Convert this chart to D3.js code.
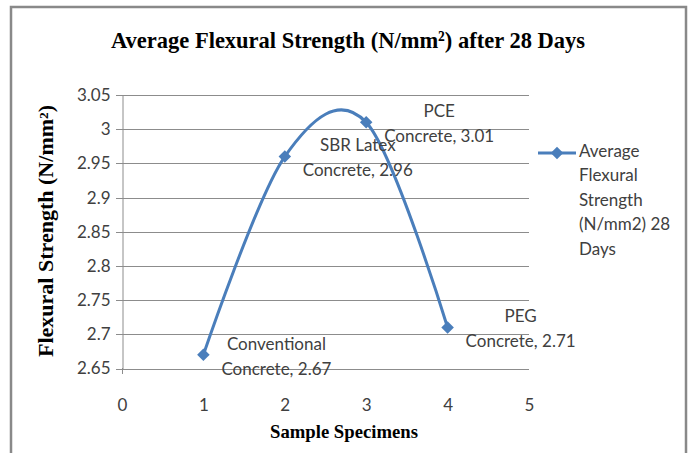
<!DOCTYPE html>
<html><head><meta charset="utf-8">
<script src="https://cdn.jsdelivr.net/npm/d3@7"></script>
<style>body{margin:0;background:#fff}svg{display:block}</style>
</head><body>
<svg id="c" width="691" height="453"></svg>
<script>
const xValues = [1, 2, 3, 4];
const strengths = [2.67, 2.96, 3.01, 2.71];
const labelLine1 = ["Conventional", "SBR Latex", "PCE", "PEG"];
const labelLine2 = ["Concrete", "Concrete", "Concrete", "Concrete"];
const xTicks = [0, 1, 2, 3, 4, 5];
const yTicks = [2.65, 2.7, 2.75, 2.8, 2.85, 2.9, 2.95, 3, 3.05];
const legendLines = ["Average", "Flexural", "Strength", "(N/mm2) 28", "Days"];
const titleText = "Average Flexural Strength (N/mm²) after 28 Days";
const xTitle = "Sample Specimens";
const yTitle = "Flexural  Strength  (N/mm²)";

const svg = d3.select("#c");
const blue = "#4A7EBB";
const tickFont = "Lato, 'Open Sans', sans-serif";
const fs = 17;

svg.append("rect").attr("x", 11).attr("y", 7).attr("width", 675).attr("height", 460)
  .attr("fill", "#fff").attr("stroke", "#898989").attr("stroke-width", 2.5);

const x = d3.scaleLinear().domain([0, 5]).range([122, 529]);
const y = d3.scaleLinear().domain([2.65, 3.05]).range([368.5, 95]);

// gridlines
svg.append("g").selectAll("line").data(yTicks).join("line")
  .attr("x1", 116).attr("x2", 529)
  .attr("y1", d => Math.round(y(d)) + 0.5).attr("y2", d => Math.round(y(d)) + 0.5)
  .attr("stroke", "#8c8c8c").attr("stroke-width", 1);

// y axis
const yAxis = svg.append("g").attr("transform", "translate(122.5,0)")
  .call(d3.axisLeft(y).tickValues(yTicks).tickSize(0).tickPadding(12).tickFormat(d => d3.format("")(+d.toFixed(2))));
yAxis.select(".domain").attr("stroke", "#8c8c8c");
yAxis.selectAll("text").attr("font-family", tickFont).attr("font-size", fs).attr("fill", "#404040");

// x axis (labels only)
const xAxis = svg.append("g").attr("transform", "translate(0,368.5)")
  .call(d3.axisBottom(x).tickValues(xTicks).tickSize(0).tickPadding(30).tickFormat(d3.format("d")));
xAxis.select(".domain").remove();
xAxis.selectAll("text").attr("font-family", tickFont).attr("font-size", fs).attr("fill", "#404040");
svg.append("line").attr("x1", 122.5).attr("x2", 122.5).attr("y1", 368).attr("y2", 374).attr("stroke", "#8c8c8c");

// line
const pts = xValues.map((v, i) => [x(v), y(strengths[i])]);
svg.append("path").attr("d", d3.line().curve(d3.curveCardinal.tension(0))(pts))
  .attr("fill", "none").attr("stroke", blue).attr("stroke-width", 3);

const diamond = d3.symbol().type(d3.symbolDiamond2).size(100);
svg.append("g").selectAll("path").data(pts).join("path")
  .attr("transform", d => `translate(${d[0]},${d[1]})`)
  .attr("d", diamond).attr("fill", blue);

// data labels
const lab = svg.append("g").attr("font-family", tickFont).attr("font-size", fs).attr("fill", "#404040");
pts.forEach((p, i) => {
  const l2 = `${labelLine2[i]}, ${d3.format(".2f")(strengths[i])}`;
  const g = lab.append("g");
  const t1 = g.append("text").attr("text-anchor", "middle").attr("y", p[1] - 12.5 + 1.5).attr("dy", "0.35em").text(labelLine1[i]);
  const t2 = g.append("text").attr("text-anchor", "middle").attr("y", p[1] + 12.5 + 1.5).attr("dy", "0.35em").text(l2);
  const w = Math.max(t1.node().getComputedTextLength(), t2.node().getComputedTextLength());
  g.selectAll("text").attr("x", p[0] + 18 + w / 2);
});

// legend
svg.append("line").attr("x1", 538).attr("x2", 576).attr("y1", 153).attr("y2", 153)
  .attr("stroke", blue).attr("stroke-width", 3);
svg.append("path").attr("transform", "translate(557,153)").attr("d", diamond).attr("fill", blue);
svg.append("g").selectAll("text").data(legendLines).join("text")
  .attr("x", 579).attr("y", (d, i) => 151 + i * 24.5).attr("dy", "0.35em")
  .attr("font-family", tickFont).attr("font-size", fs).attr("fill", "#404040").text(d => d);

// titles
svg.append("text").attr("x", 348).attr("y", 40).attr("dy", "0.35em").attr("text-anchor", "middle")
  .attr("font-family", "'Liberation Serif', serif").attr("font-weight", "bold").attr("font-size", 24)
  .attr("textLength", 474).attr("lengthAdjust", "spacingAndGlyphs").text(titleText);
svg.append("text").attr("x", 344).attr("y", 431).attr("dy", "0.35em").attr("text-anchor", "middle")
  .attr("font-family", "'Liberation Serif', serif").attr("font-weight", "bold").attr("font-size", 19)
  .attr("textLength", 148).attr("lengthAdjust", "spacingAndGlyphs").text(xTitle);
svg.append("text").attr("transform", "translate(46,231) rotate(-90)").attr("dy", "0.35em").attr("text-anchor", "middle")
  .attr("font-family", "'Liberation Serif', serif").attr("font-weight", "bold").attr("font-size", 20)
  .attr("textLength", 252).attr("lengthAdjust", "spacingAndGlyphs").text(yTitle);
</script>
</body></html>
